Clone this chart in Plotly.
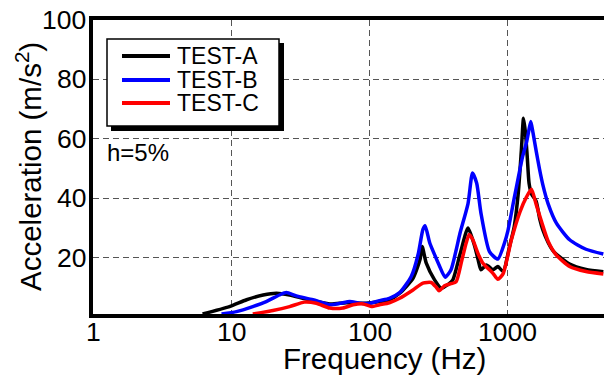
import math
import plotly.graph_objects as go

# ---------------- data ----------------
freq_a = [6.2, 9.7, 12.9, 17, 21.2, 26.4, 34.9, 51.5, 68, 94.6, 118, 139, 165, 206, 232, 240, 257,
          295, 330, 370, 400, 450, 515, 574, 610, 639, 699, 780, 846, 923, 1027, 1111, 1190, 1251,
          1297, 1340, 1380, 1423, 1480, 1600, 1700, 1790, 1958, 2145, 2795, 3670, 4900]
acc_a = [1.0, 3.5, 5.8, 7.4, 8.0, 7.4, 6.0, 4.4, 4.8, 4.6, 5.2, 5.8, 8.0, 13.0, 19.5, 23.7, 18.1,
         12.5, 9.7, 11.0, 12.5, 21.0, 30.0, 24.0, 19.2, 15.9, 17.5, 15.9, 17.0, 15.3, 23.7, 30.4, 42.0, 56.0,
         66.9, 62.0, 54.0, 45.0, 41.5, 39.0, 33.0, 29.3, 25.0, 22.0, 17.8, 16.0, 15.2]

freq_b = [8.5, 10.9, 14.3, 17.9, 22.3, 25, 29.5, 38.9, 51.5, 61, 71.9, 85, 100, 118, 139, 165, 200,
          225, 243, 252, 272, 295, 318, 352, 388, 420, 450, 515, 555, 595, 639, 736, 846, 946, 1000,
          1111, 1190, 1277, 1367, 1420, 1465, 1520, 1600, 1690, 1790, 1958, 2243, 2795, 3670, 4900]
acc_b = [1.0, 1.8, 3.5, 5.2, 7.4, 8.2, 7.1, 5.8, 4.1, 4.6, 5.2, 4.6, 4.6, 5.5, 6.3, 8.2, 13.6,
         21.3, 29.5, 30.7, 25.0, 21.0, 17.5, 13.4, 15.9, 22.0, 28.1, 38.2, 48.5, 45.0, 34.9, 22.0, 19.5, 25.0, 29.0,
         40.0, 47.0, 54.0, 59.0, 63.0, 65.8, 62.0, 56.0, 50.0, 44.5, 38.0, 31.6, 26.0, 22.8, 21.2]

freq_c = [14.3, 20, 26.4, 33.8, 41.2, 51.5, 64, 76, 90, 103, 118, 139, 165, 206, 243, 279, 303, 318,
          348, 388, 422, 465, 500, 525, 558, 610, 660, 780, 846, 923, 1060, 1225, 1367, 1480, 1600,
          1734, 1958, 2243, 2795, 3670, 4900]
acc_c = [1.0, 2.2, 3.5, 5.0, 4.6, 3.0, 3.0, 4.1, 4.4, 3.5, 4.1, 4.8, 6.3, 9.1, 11.4, 11.6, 10.0, 8.8,
         10.5, 11.2, 11.8, 19.2, 25.0, 27.8, 26.0, 21.2, 18.1, 14.7, 12.7, 14.5, 26.0, 35.5, 40.5, 43.0, 38.0,
         32.7, 25.4, 20.8, 17.0, 15.3, 14.5]

series_names = ["TEST-A", "TEST-B", "TEST-C"]
series_colors = ["#000000", "#0000ff", "#ff0000"]
x_tick_vals = [1, 10, 100, 1000]
x_tick_text = ["1", "10", "100", "1000"]
y_tick_vals = [20, 40, 60, 80, 100]
y_tick_text = ["20", "40", "60", "80", "100"]
note_text = "h=5%"
x_title = "Frequency (Hz)"
y_title = "Acceleration (m/s<sup>2</sup>)"

# ---------------- layout geometry ----------------
W, H = 604, 376
L, T, B = 93, 20, 62
PW, PH = W - L, H - T - B
FONT = "Arial, Liberation Sans, sans-serif"
TICK_SIZE = 26.5


def px(x):
    return (x - L) / PW


def py(y):
    return (T + PH - y) / PH


fig = go.Figure()
for f, a, n, c in zip([freq_a, freq_b, freq_c], [acc_a, acc_b, acc_c], series_names, series_colors):
    fig.add_trace(go.Scatter(x=f, y=a, mode="lines", name=n,
                             line=dict(color=c, width=3.5, shape="spline", smoothing=0.6),
                             showlegend=False))

shapes = []
annotations = []
# legend shadow and box
shapes.append(dict(type="rect", xref="paper", yref="paper", x0=px(111), x1=px(284), y0=py(131), y1=py(43),
                   fillcolor="black", line=dict(width=0), layer="above"))
shapes.append(dict(type="rect", xref="paper", yref="paper", x0=px(107), x1=px(279), y0=py(126), y1=py(39),
                   fillcolor="white", line=dict(color="black", width=1.5), layer="above"))
rows = [56, 80, 103]
for r, n, c in zip(rows, series_names, series_colors):
    shapes.append(dict(type="line", xref="paper", yref="paper", x0=px(122), x1=px(170), y0=py(r), y1=py(r),
                       line=dict(color=c, width=4), layer="above"))
    annotations.append(dict(text=n, xref="paper", yref="paper", x=px(175), y=py(r), xanchor="left",
                            yanchor="middle", showarrow=False, font=dict(size=23, color="black", family=FONT)))
annotations.append(dict(text=note_text, xref="paper", yref="paper", x=px(105), y=py(153), xanchor="left",
                        yanchor="middle", showarrow=False, font=dict(size=24, color="black", family=FONT)))
# tick labels placed on the axes' own scales
for v, t in zip(x_tick_vals, x_tick_text):
    annotations.append(dict(text=t, xref="x", yref="paper", x=math.log10(v), y=py(332), xanchor="center",
                            yanchor="middle", showarrow=False,
                            font=dict(size=TICK_SIZE, color="black", family=FONT)))
for v, t in zip(y_tick_vals, y_tick_text):
    annotations.append(dict(text=t, xref="paper", yref="y", x=px(88), y=v, xanchor="right",
                            yanchor="middle", showarrow=False,
                            font=dict(size=TICK_SIZE, color="black", family=FONT)))
# axis titles
annotations.append(dict(text=x_title, xref="paper", yref="paper", x=px(384), y=py(358), xanchor="center",
                        yanchor="middle", showarrow=False, font=dict(size=29.5, color="black", family=FONT)))
annotations.append(dict(text=y_title, xref="paper", yref="paper", x=px(28), y=py(167), xanchor="center",
                        yanchor="middle", textangle=-90, showarrow=False,
                        font=dict(size=29.5, color="black", family=FONT)))

fig.update_layout(
    width=W, height=H,
    margin=dict(l=L, r=0, t=T, b=B, autoexpand=False),
    paper_bgcolor="white", plot_bgcolor="white",
    font=dict(family=FONT, color="black"),
    shapes=shapes, annotations=annotations,
    xaxis=dict(type="log", range=[0, 3.695], tickvals=x_tick_vals, showticklabels=False,
               showgrid=True, gridcolor="#555555", gridwidth=1.3, griddash="6px,4px",
               showline=True, linecolor="black", linewidth=3.5, mirror=True, ticks="",
               zeroline=False, automargin=False),
    yaxis=dict(range=[1, 100], tickvals=y_tick_vals, showticklabels=False,
               showgrid=True, gridcolor="#555555", gridwidth=1.3, griddash="6px,4px",
               showline=True, linecolor="black", linewidth=3.5, mirror=False, ticks="",
               zeroline=False, automargin=False),
)

fig.write_html("out.html")
